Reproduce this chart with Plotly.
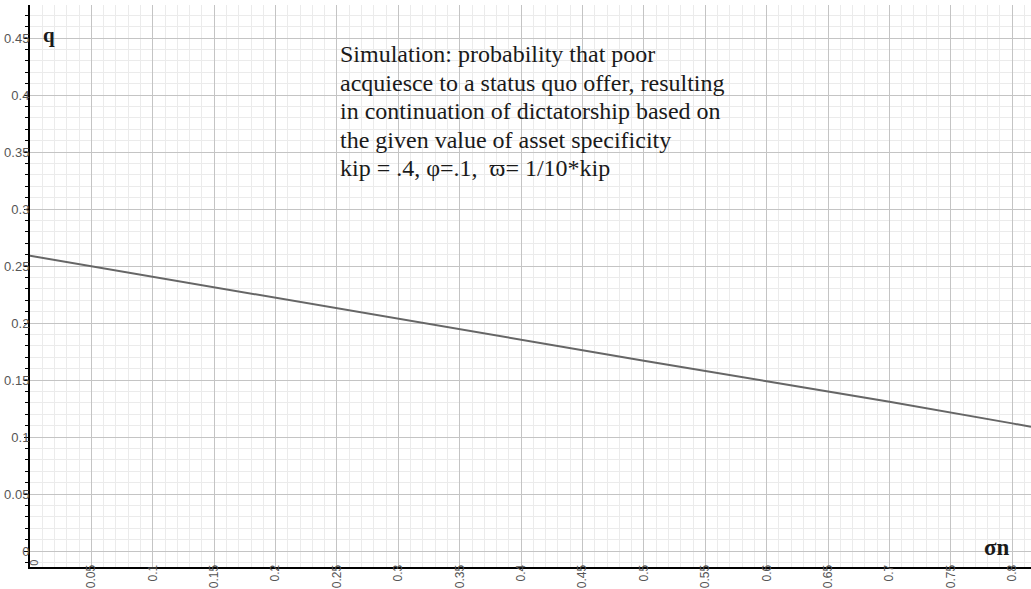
import plotly.graph_objects as go

# data
sigma_n = [0.0, 0.1, 0.2, 0.3, 0.4, 0.5, 0.6, 0.7, 0.8, 0.8153]
q_vals = [0.259, 0.2405, 0.222, 0.204, 0.1855, 0.167, 0.149, 0.131, 0.112, 0.109]

x_ticks = [0.05, 0.1, 0.15, 0.2, 0.25, 0.3, 0.35, 0.4, 0.45, 0.5, 0.55, 0.6, 0.65, 0.7, 0.75, 0.8]
x_labels = ["0.05", "0.1", "0.15", "0.2", "0.25", "0.3", "0.35", "0.4", "0.45", "0.5",
            "0.55", "0.6", "0.65", "0.7", "0.75", "0.8"]
y_ticks = [0, 0.05, 0.1, 0.15, 0.2, 0.25, 0.3, 0.35, 0.4, 0.45]
y_labels = ["0", "0.05", "0.1", "0.15", "0.2", "0.25", "0.3", "0.35", "0.4", "0.45"]

note_lines = ["Simulation: probability that poor",
              "acquiesce to a status quo offer, resulting",
              "in continuation of dictatorship based on",
              "the given value of asset specificity",
              "kip = .4, φ=.1,  ϖ= 1/10*kip"]

fig = go.Figure()
fig.add_trace(go.Scatter(x=sigma_n, y=q_vals, mode="lines",
                         line=dict(color="#666666", width=2), showlegend=False,
                         hoverinfo="skip"))

major_grid = "#c4c4c4"
minor_grid = "#ebebeb"
xtickfont = dict(family="Liberation Sans, Arial", size=12, color="#555555")
ytickfont = dict(family="Liberation Sans, Arial", size=13, color="#555555")

fig.update_layout(
    width=1031, height=589, autosize=False,
    margin=dict(l=30, r=0, t=5, b=22),
    plot_bgcolor="white", paper_bgcolor="white",
    xaxis=dict(range=[0, 0.8153], tickvals=x_ticks, ticktext=x_labels,
               tickangle=-90, tickfont=xtickfont, automargin=False, ticklabelstandoff=-9,
               showgrid=True, gridcolor=major_grid, gridwidth=1,
               minor=dict(dtick=0.01, tick0=0, showgrid=True, gridcolor=minor_grid, gridwidth=1),
               showline=True, linecolor="black", linewidth=2,
               ticks="", zeroline=False),
    yaxis=dict(range=[-0.014, 0.479], tickvals=y_ticks, ticktext=y_labels,
               tickfont=ytickfont, automargin=False, ticklabelstandoff=-8,
               showgrid=True, gridcolor=major_grid, gridwidth=1,
               minor=dict(dtick=0.01, tick0=0, showgrid=True, gridcolor=minor_grid, gridwidth=1,
                          ticks="outside", ticklen=3, tickcolor="black"),
               showline=True, linecolor="black", linewidth=2,
               ticks="outside", ticklen=4, tickcolor="black", zeroline=False),
)

note_y = [0.4360, 0.4110, 0.3860, 0.3610, 0.3360]
for line, yv in zip(note_lines, note_y):
    fig.add_annotation(x=0.2505, y=yv, xref="x", yref="y", text=line,
                       showarrow=False, xanchor="left", yanchor="middle", align="left",
                       font=dict(family="Liberation Serif, Times New Roman", size=24, color="#1a1a1a"))
fig.add_annotation(x=0.009, y=0.453, xref="x", yref="y", text="<b>q</b>", showarrow=False,
                   xanchor="left", yanchor="middle",
                   font=dict(family="Liberation Serif, Times New Roman", size=21, color="#1a1a1a"))
fig.add_annotation(x=0.8, y=-0.0095, xref="x", yref="y", text="<b>σn</b>", showarrow=False,
                   xanchor="right", yanchor="bottom",
                   font=dict(family="Liberation Serif, Times New Roman", size=23, color="#1a1a1a"))
fig.add_annotation(x=0.003, y=-0.0105, xref="x", yref="y", text="0", showarrow=False,
                   textangle=-90, xanchor="center", yanchor="middle",
                   font=dict(family="Liberation Sans, Arial", size=11, color="#555555"))

fig.write_html("out.html", config={"displayModeBar": False},
               post_script="document.body.style.margin='0';document.body.style.overflow='hidden';")
